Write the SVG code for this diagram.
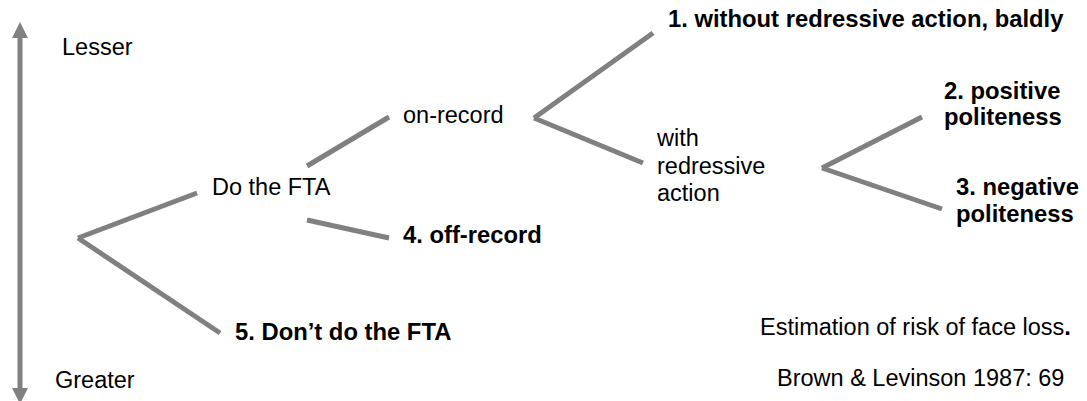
<svg xmlns="http://www.w3.org/2000/svg" width="1087" height="401" viewBox="0 0 1087 401">
<style>
text{font-family:"Liberation Sans",Arial,sans-serif;font-size:23.5px;fill:#000}
.b{font-weight:bold;font-size:23.8px}
.ln{stroke:#808080;stroke-width:5;fill:none}
.ax{stroke:#808080;stroke-width:5;fill:none}
</style>
<defs>
<marker id="ah" viewBox="0 0 10 10" refX="0" refY="5" markerWidth="3.2" markerHeight="3.2" markerUnits="strokeWidth" orient="auto-start-reverse">
<path d="M0,0 L10,5 L0,10 z" fill="#808080"/>
</marker>
</defs>
<rect width="1087" height="401" fill="#fff"/>
<g id="axis">
<line class="ax" x1="20" y1="38" x2="20" y2="388" marker-start="url(#ah)" marker-end="url(#ah)"/>
<text id="lesser" x="62" y="55">Lesser</text>
<text id="greater" x="55" y="388">Greater</text>
</g>
<g id="connectors">
<line class="ln" x1="78" y1="238" x2="197" y2="193"/>
<line class="ln" x1="78" y1="238" x2="220" y2="333"/>
<line class="ln" x1="307" y1="166" x2="389" y2="117"/>
<line class="ln" x1="307" y1="220" x2="389" y2="238"/>
<line class="ln" x1="534" y1="118" x2="653" y2="33"/>
<line class="ln" x1="534" y1="118" x2="643" y2="163"/>
<line class="ln" x1="822" y1="168" x2="922" y2="117"/>
<line class="ln" x1="822" y1="168" x2="942" y2="209"/>
</g>
<g id="do-fta"><text x="212" y="195">Do the FTA</text></g>
<g id="dont-fta"><text class="b" x="235" y="340">5. Don’t do the FTA</text></g>
<g id="on-record"><text x="403" y="123">on-record</text></g>
<g id="off-record"><text class="b" x="403" y="243">4. off-record</text></g>
<g id="bald"><text class="b" x="668" y="27">1. without redressive action, baldly</text></g>
<g id="redress"><text x="657" y="146">with</text><text x="657" y="174">redressive</text><text x="657" y="201">action</text></g>
<g id="positive"><text class="b" x="944" y="99">2. positive</text><text class="b" x="944" y="125">politeness</text></g>
<g id="negative"><text class="b" x="956" y="195">3. negative</text><text class="b" x="956" y="222">politeness</text></g>
<g id="caption">
<text x="760" y="335">Estimation of risk of face loss<tspan class="b">.</tspan></text>
<text x="777" y="386">Brown &amp; Levinson 1987: 69</text>
</g>
</svg>
